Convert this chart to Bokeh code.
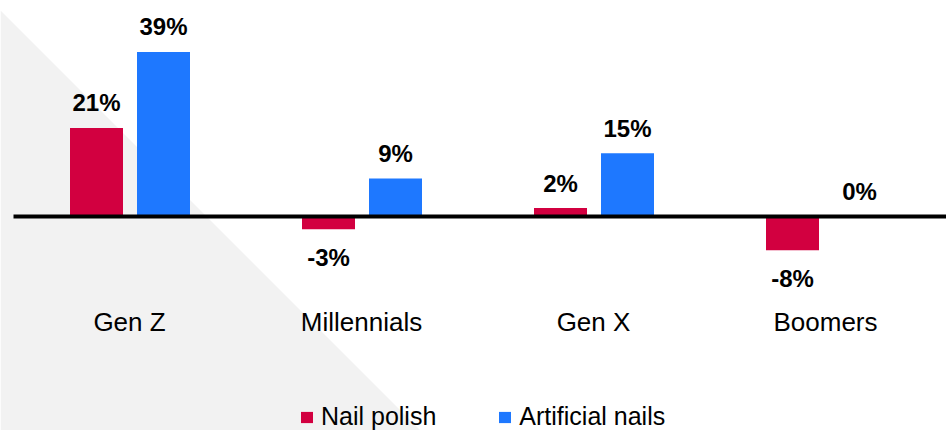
from bokeh.plotting import figure
from bokeh.models import Range1d, ColumnDataSource, Legend, LegendItem
from bokeh.transform import dodge
from bokeh.core.properties import value
from bokeh.embed import file_html
from bokeh.resources import INLINE

# ---- data ----
categories = ["Gen Z", "Millennials", "Gen X", "Boomers"]
nail_polish = [21, -3, 2, -8]
artificial_nails = [39, 9, 15, 0]
series_names = ["Nail polish", "Artificial nails"]

RED = "#D20040"
BLUE = "#1E78FF"
FONT = "Liberation Sans"

W, H = 946, 430
PX_PER_PCT = 4.22
ZERO_FROM_TOP = 216
CAT_PX = 232
FIRST_CENTER = 129

x_idx = list(range(len(categories)))

def lab(v):
    return f"{v}%"

def off(v):
    return -25 if v >= 0 else 28

src = ColumnDataSource(dict(
    x=x_idx,
    cat=categories,
    np_v=nail_polish,
    an_v=artificial_nails,
    np_lab=[lab(v) for v in nail_polish],
    an_lab=[lab(v) for v in artificial_nails],
    np_off=[off(v) for v in nail_polish],
    an_off=[off(v) for v in artificial_nails],
    zero=[0] * len(categories),
))

x_start = -FIRST_CENTER / CAT_PX
x_end = (W - FIRST_CENTER) / CAT_PX
y_end = ZERO_FROM_TOP / PX_PER_PCT
y_start = -(H - ZERO_FROM_TOP) / PX_PER_PCT

p = figure(width=W, height=H, output_backend="svg", toolbar_location=None,
           x_range=Range1d(x_start, x_end), y_range=Range1d(y_start, y_end),
           min_border=0, outline_line_color=None)
p.axis.visible = False
p.grid.visible = False
p.background_fill_color = "white"
p.border_fill_color = "white"

# background diagonal triangle (pixel-space ranges)
p.extra_x_ranges["bg"] = Range1d(0, W)
p.extra_y_ranges["bg"] = Range1d(H, 0)
p.patch(x=[0, 420, 0], y=[10, 430, 430], x_range_name="bg", y_range_name="bg",
        fill_color="#F2F2F2", line_color=None)

bw = 53 / CAT_PX
r_np = p.vbar(x=dodge("x", -33 / CAT_PX, range=p.x_range), top="np_v", bottom=0, width=bw,
              source=src, fill_color=RED, line_color=None)
r_an = p.vbar(x=dodge("x", 34 / CAT_PX, range=p.x_range), top="an_v", bottom=0, width=bw,
              source=src, fill_color=BLUE, line_color=None)

# zero line
p.segment(x0=[-0.5], y0=[0], x1=[x_end + 0.1], y1=[0], line_color="black", line_width=4)

# value labels
p.text(x=dodge("x", -33 / CAT_PX, range=p.x_range), y="np_v", text="np_lab", y_offset="np_off",
       source=src, text_align="center", text_baseline="alphabetic",
       text_font=value(FONT), text_font_style="bold", text_font_size="24px", text_color="black")
p.text(x=dodge("x", 34 / CAT_PX, range=p.x_range), y="an_v", text="an_lab", y_offset="an_off",
       source=src, text_align="center", text_baseline="alphabetic",
       text_font=value(FONT), text_font_style="bold", text_font_size="24px", text_color="black")

# category labels
p.text(x="x", y="zero", text="cat", y_offset=105, source=src, text_align="center",
       text_baseline="alphabetic", text_font=value(FONT), text_font_size="26px", text_color="black")

legend = Legend(items=[LegendItem(label=series_names[0], renderers=[r_np]),
                       LegendItem(label=series_names[1], renderers=[r_an])],
                orientation="horizontal", location=(299, -1),
                glyph_width=15, glyph_height=14, label_standoff=7, spacing=61,
                padding=0, margin=0, border_line_alpha=0, background_fill_alpha=0,
                label_text_font=FONT, label_text_font_size="25px", label_text_color="black")
p.add_layout(legend)

open("out.html", "w").write(file_html(p, INLINE))
